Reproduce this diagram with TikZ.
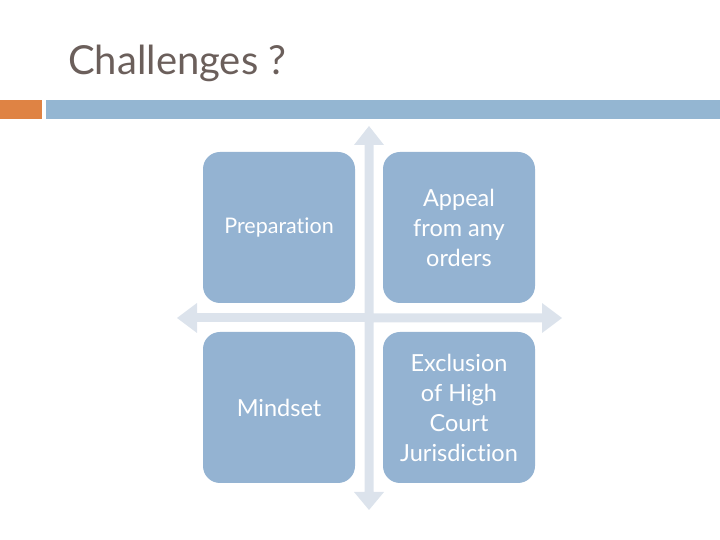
\documentclass[tikz,border=0pt]{standalone}
\usepackage{fontspec}
\setmainfont{Lato}[Ligatures={NoCommon}]
\definecolor{boxblue}{HTML}{94B3D2}
\definecolor{arrowgrey}{HTML}{DCE3EC}
\definecolor{barblue}{HTML}{94B6D2}
\definecolor{barorange}{HTML}{DF8344}
\definecolor{titlecol}{HTML}{6B5F5B}
\tikzset{
  quad/.style={fill=boxblue, rounded corners=17pt, minimum width=152pt, minimum height=151pt, inner sep=0pt, text=white, align=center, font=\fontsize{23.5}{30}\selectfont},
  axis/.style={fill=arrowgrey}
}
\begin{document}
\begin{tikzpicture}[x=1pt,y=1pt]
\useasboundingbox (0,0) rectangle (720,540);
% title
\node[anchor=base west, text=titlecol, font=\fontsize{40}{42}\selectfont, inner sep=0pt] (title) at (68,465) {Challenges ?};
% bars
\fill[barorange] (0,421) rectangle (42,440);
\fill[barblue] (46,421) rectangle (720,440);
% axes (double arrows)
\fill[axis] (364.5,48) -- (364.5,222) -- (197,222) -- (197,207) -- (177,222) -- (197,237) -- (197,226.5)
  -- (364.5,226.5) -- (364.5,395) -- (354,395) -- (369,414) -- (384,395) -- (373.5,395)
  -- (373.5,226.5) -- (542,226.5) -- (542,237) -- (562,222) -- (542,207) -- (542,217.5)
  -- (373.5,217.5) -- (373.5,48) -- (384,48) -- (369,30) -- (354,48) -- cycle;
\fill[axis] (197,217.5) rectangle (364.5,226.5);
% quadrants
\node[quad, font=\fontsize{21.5}{30}\selectfont] (prep) at (279,312.5) {Preparation};
\node[quad] (appeal) at (459,312.5) {Appeal\\from any\\orders};
\node[quad] (mind) at (279,132.5) {Mindset};
\node[quad] (excl) at (459,132.5) {Exclusion\\of High\\Court\\Jurisdiction};
\end{tikzpicture}
\end{document}
